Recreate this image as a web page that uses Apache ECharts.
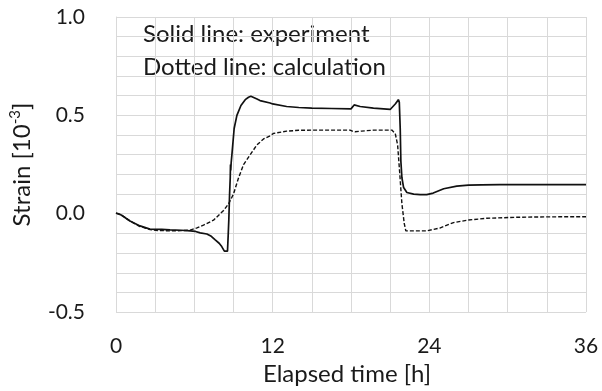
<!DOCTYPE html>
<html>
<head>
<meta charset="utf-8">
<script src="https://cdn.jsdelivr.net/npm/echarts@6/dist/echarts.min.js"></script>
<style>html,body{margin:0;padding:0;background:#fff}#c{width:602px;height:391px}</style>
</head>
<body>
<div id="c"></div>
<script>
const xTicks = [0, 12, 24, 36];
const yTicks = [-0.5, 0.0, 0.5, 1.0];
const experiment = [
  [0,0.003],[0.2,0.0],[0.43,-0.008],[1.07,-0.037],[1.84,-0.062],[2.6,-0.078],[3.5,-0.08],[4.14,-0.082],
  [5.0,-0.084],[5.68,-0.087],[6.1,-0.09],[6.45,-0.097],[6.96,-0.103],[7.3,-0.115],[7.6,-0.133],[7.9,-0.15],
  [8.1,-0.167],[8.3,-0.19],[8.44,-0.2],[8.54,-0.19],[8.6,-0.1],[8.64,-0.033],[8.7,0.1],[8.75,0.183],
  [8.77,0.25],[8.79,0.22],[8.82,0.258],[8.9,0.317],[9.05,0.433],[9.26,0.5],[9.57,0.55],[9.9,0.58],
  [10.15,0.592],[10.33,0.597],[10.8,0.583],[11.03,0.575],[11.8,0.563],[12,0.558],[13.07,0.545],[14,0.54],
  [15,0.537],[16.5,0.535],[18,0.533],[18.1,0.536],[18.24,0.553],[18.7,0.545],[19.72,0.537],[21,0.53],
  [21.13,0.533],[21.39,0.558],[21.64,0.58],[21.7,0.567],[21.77,0.433],[21.82,0.267],[21.9,0.183],
  [22.03,0.133],[22.28,0.108],[22.8,0.1],[23.3,0.097],[23.8,0.097],[24.3,0.105],[25.1,0.127],[26.1,0.14],
  [27,0.145],[28,0.147],[29.4,0.148],[32,0.148],[36,0.148]
];
const calculation = [
  [0,0.003],[0.5,-0.01],[1.07,-0.037],[1.84,-0.065],[2.6,-0.08],[3.2,-0.085],[4.14,-0.087],[5.0,-0.086],
  [5.68,-0.083],[6.2,-0.072],[6.7,-0.058],[7.47,-0.033],[8.24,0.017],[8.62,0.05],[9.0,0.1],[9.39,0.183],
  [9.77,0.25],[10.28,0.3],[10.8,0.35],[11.3,0.38],[11.82,0.397],[12.05,0.408],[13.07,0.42],[14,0.424],
  [15,0.425],[17.93,0.425],[18.1,0.42],[18.3,0.417],[18.8,0.42],[19.72,0.425],[21.13,0.425],[21.39,0.408],
  [21.57,0.35],[21.72,0.217],[21.9,0.05],[22.08,-0.05],[22.2,-0.087],[23.3,-0.087],[23.8,-0.087],
  [24.8,-0.073],[25.85,-0.045],[27,-0.032],[28.4,-0.023],[30.7,-0.018],[33,-0.016],[36,-0.015]
];
const notes = ['Solid line: experiment', 'Dotted line: calculation'];

const FONT = 'Lato, "Open Sans", sans-serif';
const TXT = '#1a1a1a';
const GRID = '#d9d9d9';
const chart = echarts.init(document.getElementById('c'), null, {renderer: 'canvas'});
chart.setOption({
  animation: false,
  backgroundColor: '#fff',
  grid: {left: 116, right: 16, top: 17, bottom: 74, containLabel: false},
  xAxis: {
    type: 'value', min: xTicks[0], max: xTicks[xTicks.length - 1], interval: 12,
    name: 'Elapsed time [h]', nameLocation: 'middle', nameGap: 39,
    nameTextStyle: {fontFamily: FONT, fontSize: 24, color: TXT, padding: [0, 0, 0, -8]},
    axisLine: {show: true, lineStyle: {color: GRID, width: 1}},
    axisTick: {show: false},
    minorTick: {show: false, splitNumber: 4},
    minorSplitLine: {show: true, lineStyle: {color: GRID, width: 1}},
    splitLine: {show: true, lineStyle: {color: GRID, width: 1}},
    axisLabel: {fontFamily: FONT, fontSize: 21, color: TXT, margin: 24}
  },
  yAxis: {
    type: 'value', min: yTicks[0], max: yTicks[yTicks.length - 1], interval: 0.5,
    name: '{n|Strain [10}{s|-3}{n|]}', nameLocation: 'middle', nameGap: 80,
    nameTextStyle: {fontFamily: FONT, fontSize: 24, color: TXT,
      rich: {n: {fontFamily: FONT, fontSize: 24, color: TXT, lineHeight: 28},
             s: {fontFamily: FONT, fontSize: 15, color: TXT, verticalAlign: 'top', lineHeight: 28}}},
    axisLine: {show: true, lineStyle: {color: GRID, width: 1}},
    axisTick: {show: false},
    minorTick: {show: false, splitNumber: 5},
    minorSplitLine: {show: true, lineStyle: {color: GRID, width: 1}},
    splitLine: {show: true, lineStyle: {color: GRID, width: 1}},
    axisLabel: {fontFamily: FONT, fontSize: 21, color: TXT, margin: 31,
      formatter: v => v.toFixed(1)}
  },
  graphic: [
    {type: 'text', left: 143, top: 22, style: {text: notes[0], font: '24px ' + FONT, fill: TXT}},
    {type: 'text', left: 143, top: 55, style: {text: notes[1], font: '24px ' + FONT, fill: TXT}}
  ],
  series: [
    {type: 'line', data: experiment, showSymbol: false, smooth: false,
     lineStyle: {color: '#111', width: 1.7, type: 'solid'}},
    {type: 'line', data: calculation, showSymbol: false, smooth: false,
     lineStyle: {color: '#111', width: 1.4, type: [4, 2]}}
  ]
});
</script>
</body>
</html>
